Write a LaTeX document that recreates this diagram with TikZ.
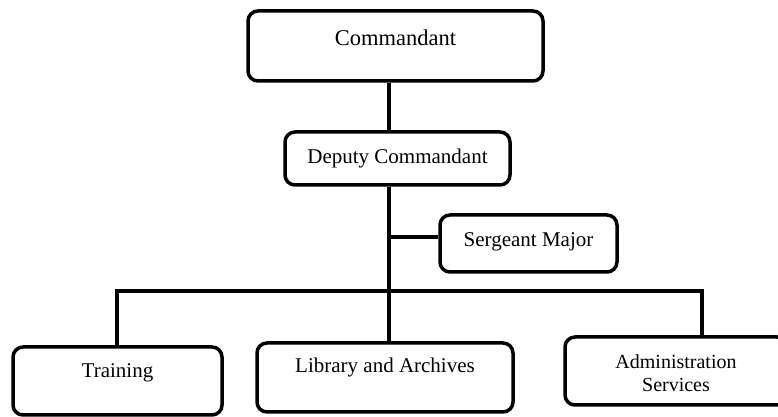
\documentclass[tikz,border=0pt]{standalone}
\usepackage{fontspec}
\setmainfont{Liberation Serif}
\begin{document}
\begin{tikzpicture}[x=1pt,y=1pt,
  box/.style={draw=black, line width=3.5pt, rounded corners=10pt, minimum width=#1, inner sep=0pt},
  lbl/.style={font=\fontsize{21}{23}\selectfont, align=center, inner sep=0pt},
  conn/.style={draw=black, line width=3.5pt}]
\useasboundingbox (0,0) rectangle (778,417);
\clip (0,0) rectangle (778,417);
% boxes
\node[box=295pt, minimum height=70pt] (cmd) at (395.5,371) {};
\node[lbl, font=\fontsize{22.5}{24}\selectfont] (cmdt) at (395.5,379) {Commandant};
\node[box=225pt, minimum height=53pt] (dep) at (397.5,258.5) {};
\node[lbl] (dept) at (397.5,259) {Deputy Commandant};
\node[box=177pt, minimum height=57pt] (sgt) at (528.5,173.5) {};
\node[lbl] (sgtt) at (528.5,175) {Sergeant Major};
\node[box=209pt, minimum height=68pt] (trn) at (117.5,36) {};
\node[lbl] (trnt) at (117.5,44) {Training};
\node[box=256pt, minimum height=69pt] (lib) at (385,39.5) {};
\node[lbl] (libt) at (385,50) {Library and Archives};
\node[box=222pt, minimum height=68pt] (adm) at (676,46) {};
\node[lbl, font=\fontsize{20}{23}\selectfont] (admt) at (676,43.5) {Administration\\Services};
% connectors
\coordinate (spine) at (389,0);
\coordinate (sgtjoin) at (389,180);
\coordinate (bus) at (389,126);
\coordinate (busl) at (117,126);
\coordinate (busr) at (702,126);
\draw[conn] (cmd.south -| spine) -- (dep.north -| spine);
\draw[conn] (dep.south -| spine) -- (lib.north -| spine);
\draw[conn] (sgtjoin) -- (sgtjoin -| sgt.west);
\draw[conn, line join=miter] (trn.north -| busl) -- (busl) -- (busr) -- (adm.north -| busr);
\end{tikzpicture}
\end{document}
